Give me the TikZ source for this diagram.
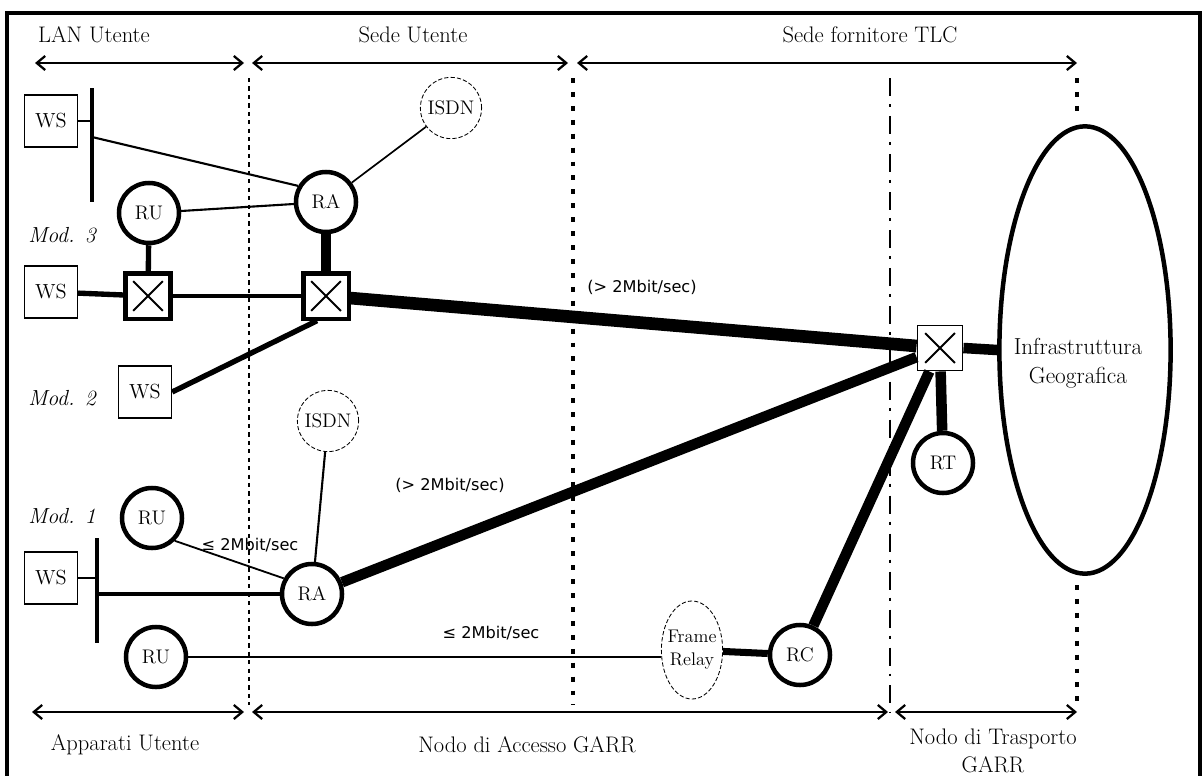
\documentclass[tikz,border=0pt]{standalone}
\usepackage{fontspec}
\usetikzlibrary{arrows.meta}
\usetikzlibrary{shapes.geometric,positioning}
\newfontfamily\ratefont{DejaVu Sans}
\colorlet{penColor}{black}

\tikzset{>={Straight Barb[length=6pt,width=10pt]},
  span/.style={<->,penColor,line width=1.6pt},
  zone/.style={font=\fontsize{16}{20}\selectfont,align=center},
  modlab/.style={font=\fontsize{15.5}{18}\selectfont\itshape},
  rate/.style={font=\ratefont\fontsize{11.5}{13}\selectfont},
  sepdash/.style={penColor,line width=0.8pt,dash pattern=on 3pt off 3pt},
  sepdot/.style={penColor,line width=2.2pt,dash pattern=on 3.5pt off 6.4pt},
  sepdashdot/.style={penColor,line width=0.8pt,dash pattern=on 12.8pt off 5.7pt on 2.1pt off 6.4pt},
  ws/.style={draw,line width=0.8pt,minimum width=1.33cm,minimum height=1.3cm,inner sep=0pt,
    font=\fontsize{14.5}{16}\selectfont},
  router/.style={circle,draw,line width=3.2pt,minimum size=1.5cm,inner sep=0pt,
    font=\fontsize{14}{16}\selectfont},
  isdn/.style={circle,draw,line width=0.6pt,dash pattern=on 3pt off 1.5pt,minimum size=1.53cm,
    inner sep=0pt,font=\fontsize{14}{16}\selectfont},
  xbox/.style={draw,fill=white,line width=3pt,minimum size=1.13cm,inner sep=0pt,
    path picture={\draw[line width=1.3pt]
      ([shift={(5.5pt,5.5pt)}]path picture bounding box.south west) --
      ([shift={(-5.5pt,-5.5pt)}]path picture bounding box.north east)
      ([shift={(5.5pt,-5.5pt)}]path picture bounding box.north west) --
      ([shift={(-5.5pt,5.5pt)}]path picture bounding box.south east);}},
  frelay/.style={ellipse,draw,line width=0.6pt,dash pattern=on 3pt off 1.5pt,minimum width=1.53cm,
    minimum height=2.45cm,inner xsep=-6pt,inner ysep=0pt,align=center,font=\fontsize{13}{16.5}\selectfont},
  geo/.style={ellipse,draw,line width=3.2pt,minimum width=4.28cm,minimum height=11.18cm,inner sep=0pt},
  thinlink/.style={penColor,line width=1.5pt},
  midlink/.style={penColor,line width=3.8pt},
  fatlink/.style={penColor,line width=7.5pt},
}

\begin{document}
\begin{tikzpicture}[x=0.025cm,y=-0.025cm]
  \useasboundingbox (0,0) rectangle (1204,776);
  \draw[penColor,line width=2.4pt] (7,776) -- (7,13) -- (1200,13) -- (1200,776);

  \node[zone] (lanU) at (94,35) {LAN Utente};
  \node[zone] (sedeU) at (413,35) {Sede Utente};
  \node[zone] (sedeT) at (870,35) {Sede fornitore TLC};
  \draw[span] (35,63) -- (244,63);
  \draw[span] (252,63) -- (568,63);
  \draw[span] (577,63) -- (1077,63);

  \draw[sepdash] (249,78) -- (249,705);
  \draw[sepdot] (573,78) -- (573,705);
  \draw[sepdashdot] (890,78) -- (890,712);
  \draw[sepdot] (1077,78) -- (1077,113);
  \draw[sepdot] (1077,585) -- (1077,708);

  \draw[span] (32,712) -- (244,712);
  \draw[span] (252,712) -- (888,712);
  \draw[span] (895,712) -- (1077,712);
  \node[zone] (appU) at (125,745) {Apparati Utente};
  \node[zone] (accG) at (527,745) {Nodo di Accesso GARR};
  \node[zone] (traG) at (993,751) {Nodo di Trasporto\\GARR};

  \node[modlab] (modC) at (62,235) {Mod. 3};
  \node[modlab] (modB) at (62,398) {Mod. 2};
  \node[modlab] (modA) at (62,516) {Mod. 1};

  \node[geo] (infra) at (1085,350) {};
  \node[font=\fontsize{16.5}{21}\selectfont,align=center] (infraT) at (1078,363) {Infrastruttura\\Geografica};

  \node[ws] (wsA) at (51,121) {WS};
  \node[router] (ruA) at (149,213) {RU};
  \node[router] (raA) at (326,202) {RA};
  \node[isdn] (isdnA) at (451,108) {ISDN};
  \node[xbox] (swA) at (148,296) {};
  \node[xbox] (swB) at (326,296) {};
  \node[ws] (wsB) at (51,292) {WS};
  \node[ws] (wsC) at (145,392) {WS};
  \node[isdn] (isdnB) at (328,421) {ISDN};
  \node[router] (ruB) at (152,518) {RU};
  \node[ws] (wsD) at (51,578) {WS};
  \node[router] (raB) at (312,594) {RA};
  \node[router] (ruC) at (156,657) {RU};
  \node[frelay] (fr) at (692,650) {Frame\\Relay};
  \node[router] (rc) at (800,655) {RC};
  \node[xbox,line width=1.2pt] (swC) at (940,348) {};
  \node[router] (rt) at (943,463) {RT};

  \coordinate (busAt) at (92,88);
  \coordinate (busAb) at (92,202);
  \coordinate (tapA) at (92,137);
  \draw[penColor,line width=2.4pt] (busAt) -- (busAb);
  \draw[penColor,line width=2pt] (wsA.east) -- (wsA.east -| busAt);
  \draw[thinlink] (tapA) -- (raA.150);
  \draw[thinlink] (ruA) -- (raA);
  \draw[penColor,line width=1.2pt] (isdnA) -- (raA);
  \draw[midlink] (ruA) -- (swA);
  \draw[fatlink] (raA) -- (swB);
  \draw[midlink] (wsB) -- (swA);
  \draw[penColor,line width=3pt] (swA) -- (swB);
  \draw[midlink] (wsC.east) -- (swB.250);
  \draw[penColor,line width=9pt] (swB) -- (swC);

  \coordinate (busBt) at (97,538);
  \coordinate (busBb) at (97,643);
  \draw[penColor,line width=3pt] (busBt) -- (busBb);
  \draw[thinlink] (wsD.east) -- (wsD.east -| busBt);
  \draw[penColor,line width=2.2pt] (raB.west -| busBt) -- (raB.west);
  \draw[penColor,line width=1.3pt] (ruB.-45) -- (raB.151);
  \draw[thinlink] (isdnB) -- (raB);
  \draw[fatlink] (raB) -- (swC);
  \draw[thinlink] (ruC.east) -- (ruC.east -| fr.west);
  \draw[penColor,line width=5pt] (fr) -- (rc);
  \draw[fatlink] (rc) -- (swC);
  \draw[fatlink] (swC) -- (rt);
  \draw[fatlink] (swC.east) -- (infra.west);

  \node[rate] (rateA) at (642,287) {(> 2Mbit/sec)};
  \node[rate] (rateB) at (450,485) {(> 2Mbit/sec)};
  \node[rate] (rateC) at (250,545) {≤ 2Mbit/sec};
  \node[rate] (rateD) at (491,633) {≤ 2Mbit/sec};
\end{tikzpicture}
\end{document}
